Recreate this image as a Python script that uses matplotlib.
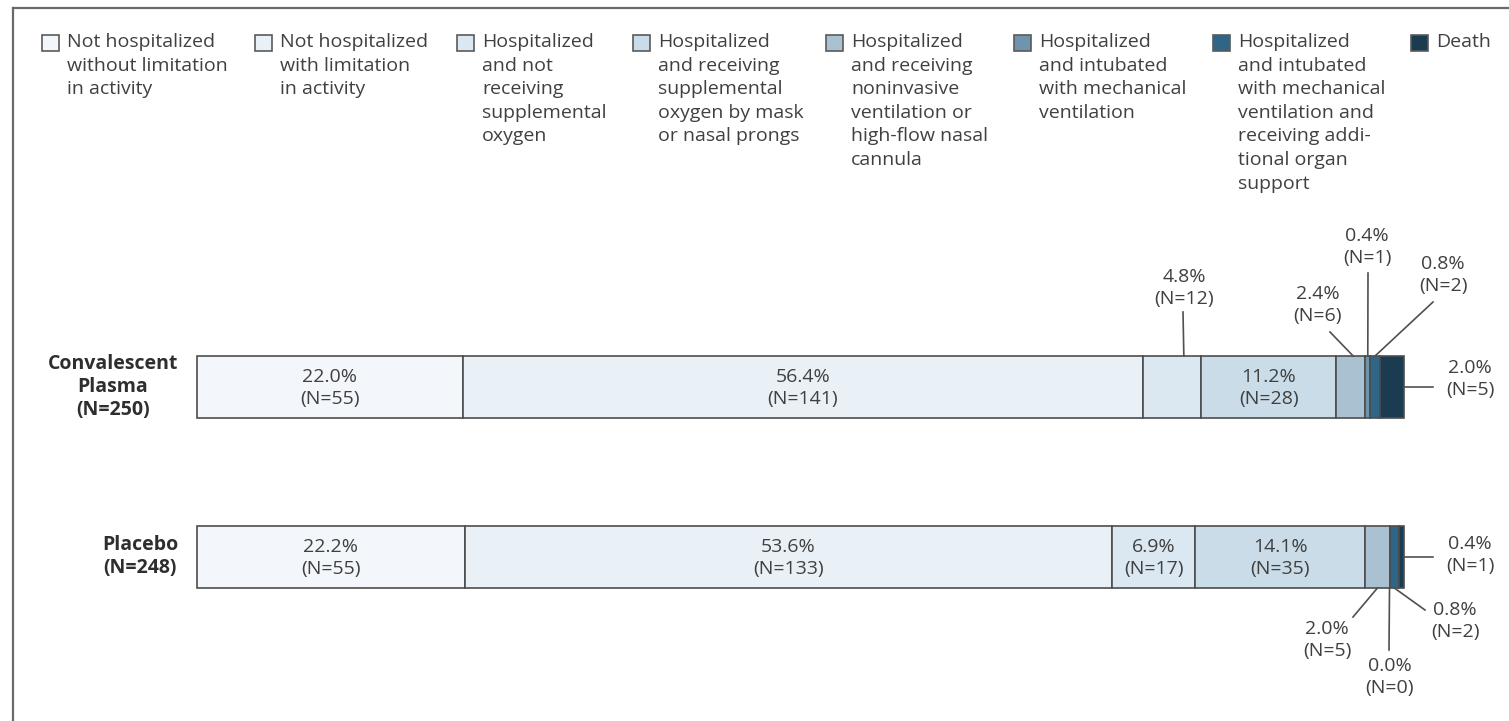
import matplotlib
matplotlib.use("Agg")
import matplotlib.pyplot as plt
from matplotlib.patches import Rectangle

plt.rcParams["font.family"] = ["Open Sans", "DejaVu Sans"]

# Ordinal outcome categories (legend order)
categories = [
    "Not hospitalized\nwithout limitation\nin activity",
    "Not hospitalized\nwith limitation\nin activity",
    "Hospitalized\nand not\nreceiving\nsupplemental\noxygen",
    "Hospitalized\nand receiving\nsupplemental\noxygen by mask\nor nasal prongs",
    "Hospitalized\nand receiving\nnoninvasive\nventilation or\nhigh-flow nasal\ncannula",
    "Hospitalized\nand intubated\nwith mechanical\nventilation",
    "Hospitalized\nand intubated\nwith mechanical\nventilation and\nreceiving addi-\ntional organ\nsupport",
    "Death",
]
groups = ["Convalescent\nPlasma\n(N=250)", "Placebo\n(N=248)"]
plasma_pct = [22.0, 56.4, 4.8, 11.2, 2.4, 0.4, 0.8, 2.0]
plasma_n = [55, 141, 12, 28, 6, 1, 2, 5]
placebo_pct = [22.2, 53.6, 6.9, 14.1, 2.0, 0.0, 0.8, 0.4]
placebo_n = [55, 133, 17, 35, 5, 0, 2, 1]

colors = ["#f3f6fa", "#e9f0f6", "#dbe8f1", "#c9dce8",
          "#a9c1d0", "#6f94ae", "#2f6586", "#1b3c50"]
EDGE = "#4d4d4d"
TXT = "#404040"
LINE = "#505050"
FS = 14
LS = 1.3
LS_LEG = 1.4

W, H = 1509, 721
fig = plt.figure(figsize=(W / 100, H / 100), dpi=100)
ax = fig.add_axes([0, 0, 1, 1])
X0, X1 = 197, 1404          # pixel span of the 0-100 % axis
scale = (X1 - X0) / 100.0
ax.set_xlim(-X0 / scale, (W - X0) / scale)
ax.set_ylim(H, 0)
ax.axis("off")


def px(x):
    """Horizontal pixel position -> percent axis units."""
    return (x - X0) / scale


# Frame on the left and top
ax.plot([px(13), px(13)], [8, H], color="#6a6a6a", lw=1.6, clip_on=False)
ax.plot([px(13), px(W)], [8, 8], color="#6a6a6a", lw=1.6, clip_on=False)

# Legend
box_x = [42, 255, 457, 633, 826, 1014, 1213, 1411]
for bx, lab, col in zip(box_x, categories, colors):
    ax.add_patch(Rectangle((px(bx), 35), 17 / scale, 16, facecolor=col,
                           edgecolor="#5a5a5a", lw=1.2, clip_on=False))
    ax.text(px(bx + 25), 33, lab, fontsize=FS, color=TXT, va="top",
            ha="left", linespacing=LS_LEG)

# Stacked bars
BAR_H = 62
rows = [(groups[0], plasma_pct, plasma_n, 387),
        (groups[1], placebo_pct, placebo_n, 557)]
inside = [{0, 1, 3}, {0, 1, 2, 3}]
starts = []
for (name, pcts, ns, yc), ins in zip(rows, inside):
    left = 0.0
    st = []
    for i, (p, n) in enumerate(zip(pcts, ns)):
        ax.barh(yc, p, left=left, height=BAR_H, color=colors[i],
                edgecolor=EDGE, linewidth=1.2)
        st.append(left)
        if i in ins:
            ax.text(left + p / 2, yc + 1, f"{p:.1f}%\n(N={n})", fontsize=FS,
                    color=TXT, ha="center", va="center", linespacing=LS)
        left += p
    starts.append(st)
    ax.text(px(178), yc, name, fontsize=FS, fontweight="bold", color="#2e2e2e",
            ha="right", va="center", multialignment="center", linespacing=1.2)

# Outside labels: (row, segment, text center px, leader start px, fraction along segment, edge)
callouts = [
    (0, 2, (1184, 288), (1183, 312), 0.70, "top"),
    (0, 4, (1318, 305), (1330, 332), 0.58, "top"),
    (0, 5, (1367, 247), (1368, 273), 0.50, "top"),
    (0, 6, (1443, 275), (1433, 302), 0.50, "top"),
    (0, 7, (1470, 379), (1433, 387), 1.00, "right"),
    (1, 4, (1327, 640), (1353, 617), 0.50, "bottom"),
    (1, 5, (1390, 677), (1389, 650), 0.50, "bottom"),
    (1, 6, (1455, 621), (1425, 610), 0.50, "bottom"),
    (1, 7, (1470, 555), (1433, 557), 1.00, "right"),
]
for r, i, (tx, ty), (lx, ly), frac, edge in callouts:
    _, pcts, ns, yc = rows[r]
    p, n = pcts[i], ns[i]
    xe = starts[r][i] + frac * p
    if edge == "top":
        ye = yc - BAR_H / 2
    elif edge == "bottom":
        ye = yc + BAR_H / 2
    else:
        ye = yc
    ax.plot([px(lx), xe], [ly, ye], color=LINE, lw=1.2, clip_on=False)
    ax.text(px(tx), ty, f"{p:.1f}%\n(N={n})", fontsize=FS, color=TXT,
            ha="center", va="center", linespacing=LS)

fig.savefig("out.png", dpi=100, facecolor="white")
